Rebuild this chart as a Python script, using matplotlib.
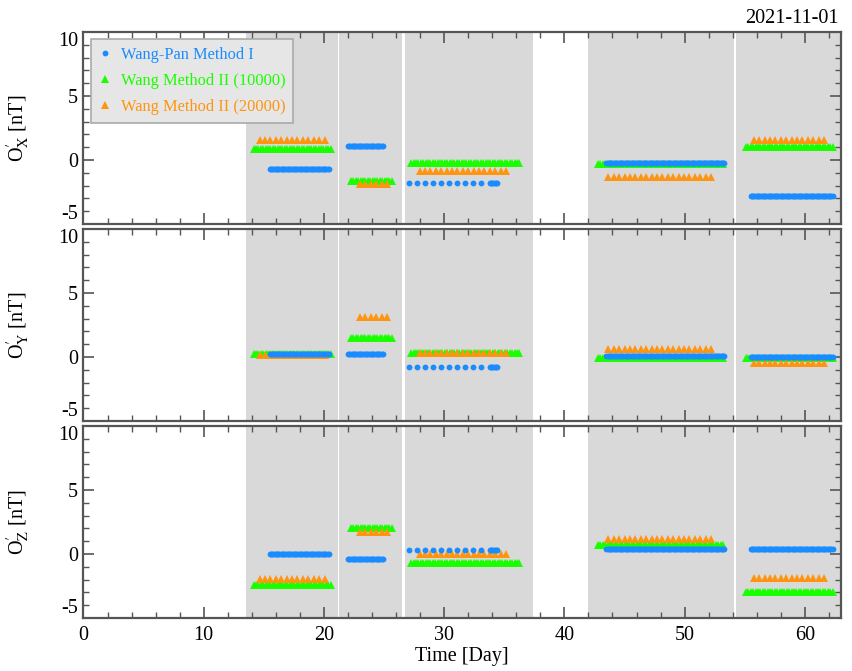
import numpy as np
import matplotlib.pyplot as plt
from matplotlib.lines import Line2D
from matplotlib.ticker import MultipleLocator

plt.rcParams['font.family'] = ['Liberation Serif', 'DejaVu Serif']
plt.rcParams['mathtext.fontset'] = 'stix'
plt.rcParams['axes.unicode_minus'] = False

# shaded observation windows [day]
window_start = [13.5, 21.25, 26.7, 42.0, 54.3]
window_end = [21.15, 26.5, 37.4, 54.1, 63.0]

components = ['X', 'Y', 'Z']

# Wang-Pan Method I : segments and offsets [nT] for X, Y, Z
wp_start = [15.5, 22.0, 27.07, 33.8, 43.5, 55.5]
wp_end = [20.4, 24.9, 33.1, 34.4, 53.3, 62.3]
wp_step = [0.1, 0.1, 0.667, 0.1, 0.1, 0.1]
wp_vals = {
    'X': [-0.74, 1.08, -1.81, -1.81, -0.25, -2.83],
    'Y': [0.22, 0.21, -0.76, -0.76, 0.10, 0.02],
    'Z': [0.00, -0.41, 0.29, 0.29, 0.39, 0.41],
}

# Wang Method II (10000)
w1_start = [14.15, 22.25, 27.25, 42.8, 55.1]
w1_end = [20.65, 25.75, 36.35, 53.2, 62.4]
w1_step = 0.2
w1_vals = {
    'X': [0.85, -1.65, -0.25, -0.35, 1.05],
    'Y': [0.20, 1.50, 0.29, -0.10, -0.10],
    'Z': [-2.40, 2.00, -0.68, 0.68, -2.97],
}

# Wang Method II (20000)
w2_start = [14.65, 23.0, 27.95, 43.65, 55.75]
w2_end = [20.15, 25.3, 35.55, 52.5, 61.95]
w2_step = 0.45
w2_vals = {
    'X': [1.57, -1.86, -0.85, -1.34, 1.60],
    'Y': [0.18, 3.15, 0.29, 0.60, -0.49],
    'Z': [-1.98, 1.70, 0.02, 1.15, -1.90],
}

c_blue = '#1a8cff'
c_green = '#1aff00'
c_orange = '#ff9410'
frame = '#555555'
fs = 14.5


def segments(starts, ends, steps, vals):
    xs, ys = [], []
    for s, e, st, v in zip(starts, ends, steps, vals):
        t = np.arange(s, e + 1e-6, st)
        xs.append(t)
        ys.append(np.full(len(t), v))
    return np.concatenate(xs), np.concatenate(ys)


fig = plt.figure(figsize=(8.52, 6.71), dpi=100)
left, width, height = 0.098, 0.889, 0.286
bottoms = [0.6662, 0.3726, 0.079]

axes = []
for i, comp in enumerate(components):
    ax = fig.add_axes([left, bottoms[i], width, height])
    axes.append(ax)
    for s, e in zip(window_start, window_end):
        ax.axvspan(s, e, color='#d9d9d9', lw=0, zorder=0)

    x, y = segments(w1_start, w1_end, [w1_step] * len(w1_start), w1_vals[comp])
    ax.plot(x, y, '^', color=c_green, ms=5.2, mew=0, zorder=2)
    x, y = segments(w2_start, w2_end, [w2_step] * len(w2_start), w2_vals[comp])
    ax.plot(x, y, '^', color=c_orange, ms=5.5, mew=0, zorder=3)
    x, y = segments(wp_start, wp_end, wp_step, wp_vals[comp])
    ax.plot(x, y, 'o', color=c_blue, ms=4.2, mew=0, zorder=4)

    ax.set_xlim(0, 63)
    ax.set_ylim(-5, 10)
    ax.xaxis.set_major_locator(MultipleLocator(10))
    ax.xaxis.set_minor_locator(MultipleLocator(2))
    ax.yaxis.set_major_locator(MultipleLocator(5))
    ax.yaxis.set_minor_locator(MultipleLocator(1))
    ax.tick_params(which='both', direction='in', top=True, right=True,
                   color=frame, labelsize=fs)
    ax.tick_params(which='major', length=8, width=1.2)
    ax.tick_params(which='minor', length=4, width=1)
    ax.tick_params(axis='y', pad=4)
    ax.tick_params(axis='x', pad=6)
    for sp in ax.spines.values():
        sp.set_color(frame)
        sp.set_linewidth(1.6)
    ax.set_ylabel('O$_{\\rm %s}^{\\prime}$ [nT]' % comp, fontsize=fs)
    ax.yaxis.set_label_coords(-0.068, 0.5)
    if i < 2:
        ax.tick_params(labelbottom=False)

    # end labels sit inside the panel height, as in the reference
    fig.canvas.draw()
    for tl in ax.get_yticklabels():
        txt = tl.get_text().replace('\u2212', '-')
        if txt == '10':
            tl.set_va('top')
        elif txt == '-5':
            tl.set_va('bottom')

axes[-1].set_xlabel('Time [Day]', fontsize=fs, labelpad=1)

handles = [
    Line2D([], [], ls='', marker='o', color=c_blue, ms=4.2, mew=0),
    Line2D([], [], ls='', marker='^', color=c_green, ms=5.5, mew=0),
    Line2D([], [], ls='', marker='^', color=c_orange, ms=5.5, mew=0),
]
labels = ['Wang-Pan Method I', 'Wang Method II (10000)', 'Wang Method II (20000)']
leg = axes[0].legend(handles, labels, loc='upper left', fontsize=11.8,
                     labelcolor=[c_blue, c_green, c_orange],
                     facecolor='#e6e6e6', edgecolor='#aaaaaa', framealpha=1,
                     fancybox=False, handlelength=0.8, handletextpad=0.6,
                     borderaxespad=0.45, borderpad=0.45, labelspacing=0.62)
leg.get_frame().set_linewidth(1.2)
leg.set_zorder(10)

fig.text(0.984, 0.973, '2021-11-01', ha='right', va='center', fontsize=fs)

fig.savefig('out.png', dpi=100)
